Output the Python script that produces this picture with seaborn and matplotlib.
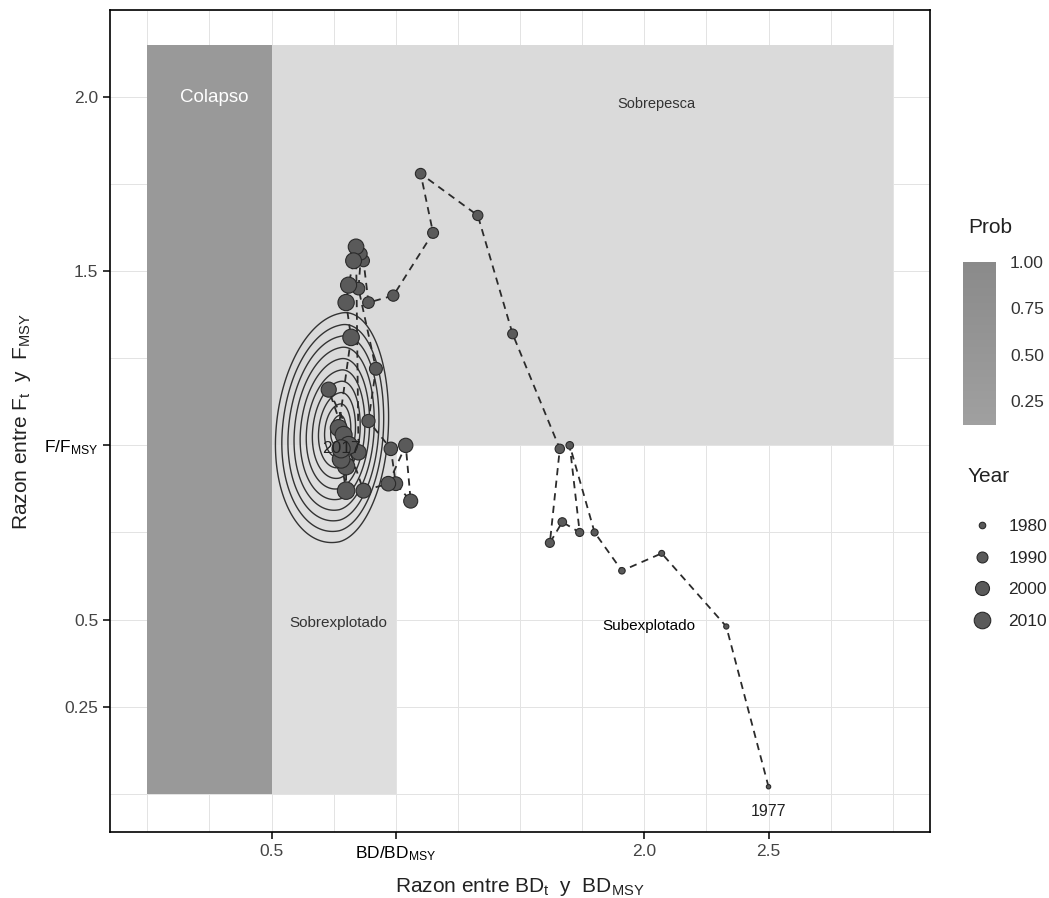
import matplotlib
matplotlib.use("Agg")
import matplotlib.pyplot as plt
import matplotlib.cm as cm
import seaborn as sns
import numpy as np
import pandas as pd
from matplotlib.lines import Line2D
from matplotlib.colors import LinearSegmentedColormap, Normalize

sns.set_theme(style="white")
plt.rcParams["font.family"] = ["Liberation Sans", "DejaVu Sans"]
plt.rcParams["mathtext.default"] = "regular"

# Trayectoria anual BD/BDmsy y F/Fmsy
years = list(range(1977, 2018))
bd_ratio = [
    2.50, 2.33, 2.07, 1.91, 1.80, 1.70, 1.74, 1.67, 1.62, 1.66,
    1.47, 1.33, 1.10, 1.15, 0.99, 0.89, 0.87, 0.86, 0.85, 0.92,
    0.89, 0.98, 1.00, 1.06, 1.04, 0.97, 0.87, 0.73, 0.85, 0.84,
    0.83, 0.81, 0.80, 0.82, 0.77, 0.79, 0.80, 0.80, 0.78, 0.81, 0.78,
]
f_ratio = [
    0.02, 0.48, 0.69, 0.64, 0.75, 1.00, 0.75, 0.78, 0.72, 0.99,
    1.32, 1.66, 1.78, 1.61, 1.43, 1.41, 1.53, 1.55, 1.45, 1.22,
    1.07, 0.99, 0.89, 0.84, 1.00, 0.89, 0.87, 1.16, 0.98, 1.57,
    1.53, 1.46, 1.41, 1.31, 1.05, 1.03, 0.94, 0.87, 0.96, 1.00, 0.99,
]
df = pd.DataFrame({"year": years, "bd": bd_ratio, "f": f_ratio})

# Zonas del diagrama de Kobe
zone_x = [0.0, 0.5, 1.0, 3.0]
zone_y = [0.0, 1.0, 2.15]

# Contornos de la incertidumbre del ultimo anio (centro, escalas izq/der, abajo/arriba)
dens_mu = (0.773, 1.04)
dens_sd_x = (0.117, 0.09)
dens_sd_y = (0.145, 0.155)
dens_rho = 0.12
contour_levels = [0.3, 0.51, 0.72, 0.93, 1.14, 1.35, 1.56, 1.77, 1.98, 2.2]

legend_years = [1980, 1990, 2000, 2010]
prob_ticks = [0.25, 0.50, 0.75, 1.00]

size_range = (10, 170)
year_range = (1977, 2017)
pt_fill = "#5a5a5a"
pt_edge = "#2a2a2a"

fig = plt.figure(figsize=(10.49, 8.98), dpi=100)
ax = fig.add_axes([0.1049, 0.0735, 0.7817, 0.9154])
ax.set_xlim(-0.15, 3.15)
ax.set_ylim(-0.11, 2.25)

# grilla
ax.set_axisbelow(True)
ax.set_xticks(np.arange(0, 3.01, 0.25), minor=True)
ax.set_yticks(np.arange(0, 2.26, 0.25), minor=True)
ax.grid(which="both", color="#e3e3e3", linewidth=0.7)

# zonas
ax.fill_between([zone_x[0], zone_x[1]], zone_y[0], zone_y[2], color="#999999", lw=0, zorder=1)
ax.fill_between([zone_x[1], zone_x[2]], zone_y[0], zone_y[1], color="#dedede", lw=0, zorder=1)
ax.fill_between([zone_x[1], zone_x[3]], zone_y[1], zone_y[2], color="#dadada", lw=0, zorder=1)

# contornos
gx, gy = np.meshgrid(np.linspace(0.2, 1.4, 400), np.linspace(0.3, 1.8, 400))
zx = np.where(gx < dens_mu[0], (gx - dens_mu[0]) / dens_sd_x[0], (gx - dens_mu[0]) / dens_sd_x[1])
zy = np.where(gy < dens_mu[1], (gy - dens_mu[1]) / dens_sd_y[0], (gy - dens_mu[1]) / dens_sd_y[1])
dist = np.sqrt((zx**2 - 2 * dens_rho * zx * zy + zy**2) / (1 - dens_rho**2))
ax.contour(gx, gy, dist, levels=contour_levels, colors="#333333", linewidths=1.0, zorder=2)

# trayectoria
sns.lineplot(data=df, x="bd", y="f", sort=False, estimator=None, ax=ax,
             color="#2b2b2b", linestyle=(0, (4, 3)), linewidth=1.3, zorder=3)
sns.scatterplot(data=df, x="bd", y="f", size="year", sizes=size_range,
                size_norm=year_range, color=pt_fill, edgecolor=pt_edge,
                linewidth=0.8, legend=False, ax=ax, zorder=4)

# etiquetas
ax.text(0.27, 2.0, "Colapso", color="white", fontsize=13.5, ha="center", va="center", zorder=5)
ax.text(2.05, 1.98, "Sobrepesca", color="#333333", fontsize=10.5, ha="center", va="center", zorder=5)
ax.text(0.77, 0.49, "Sobrexplotado", color="#333333", fontsize=11, ha="center", va="center", zorder=5)
ax.text(2.02, 0.48, "Subexplotado", color="black", fontsize=11, ha="center", va="center", zorder=5)
ax.text(df["bd"].iloc[0], df["f"].iloc[0] - 0.07, str(years[0]), fontsize=11.5,
        ha="center", va="center", color="#222222", zorder=5)
ax.text(df["bd"].iloc[-1], df["f"].iloc[-1], str(years[-1]), fontsize=12.5,
        ha="center", va="center", color="#222222", zorder=5)

# ejes
ax.set_xticks([0.5, 1.0, 2.0, 2.5])
ax.set_xticklabels(["0.5", "BD/BD$_{MSY}$", "2.0", "2.5"])
ax.set_yticks([0.25, 0.5, 1.0, 1.5, 2.0])
ax.set_yticklabels(["0.25", "0.5", "F/F$_{MSY}$", "1.5", "2.0"])
ax.tick_params(which="major", bottom=True, left=True, direction="out", length=5,
               width=1.1, color="black", labelsize=12.5, labelcolor="#444444")
ax.tick_params(which="minor", length=0)
ax.get_xticklabels()[1].set_color("black")
ax.get_yticklabels()[2].set_color("black")
for sp in ax.spines.values():
    sp.set_color("black")
    sp.set_linewidth(1.2)
ax.set_xlabel("Razon entre BD$_t$  y  BD$_{MSY}$", fontsize=15, color="#222222", labelpad=10)
ax.set_ylabel("Razon entre F$_t$  y  F$_{MSY}$", fontsize=15, color="#222222", labelpad=8)

# leyenda Prob
cax = fig.add_axes([963 / 1049, 1 - 425 / 898, 33 / 1049, 163 / 898])
cmap = LinearSegmentedColormap.from_list("prob", ["#a0a0a0", "#8a8a8a"])
cb = fig.colorbar(cm.ScalarMappable(norm=Normalize(0.12, 1.0), cmap=cmap), cax=cax)
cb.set_ticks(prob_ticks)
cb.ax.set_yticklabels([f"{p:.2f}" for p in prob_ticks])
cb.outline.set_visible(False)
cb.ax.tick_params(length=4, color="white", direction="in", pad=10, labelsize=12.5, labelcolor="#333333")
fig.text(968 / 1049, 1 - 228 / 898, "Prob", fontsize=15, color="#222222", va="center")

# leyenda Year
def year_size(y):
    return size_range[0] + (y - year_range[0]) / (year_range[1] - year_range[0]) * (size_range[1] - size_range[0])

handles = [Line2D([0], [0], marker="o", linestyle="", markersize=np.sqrt(year_size(y)),
                  markerfacecolor=pt_fill, markeredgecolor=pt_edge, markeredgewidth=0.8)
           for y in legend_years]
fig.text(968 / 1049, 1 - 477 / 898, "Year", fontsize=15, color="#222222", va="center")
fig.legend(handles, [str(y) for y in legend_years], loc="upper left",
           bbox_to_anchor=(958 / 1049, 1 - 512 / 898), frameon=False, fontsize=12.5,
           labelspacing=0.95, handletextpad=0.5, borderaxespad=0)

fig.savefig("out.png", dpi=100)
